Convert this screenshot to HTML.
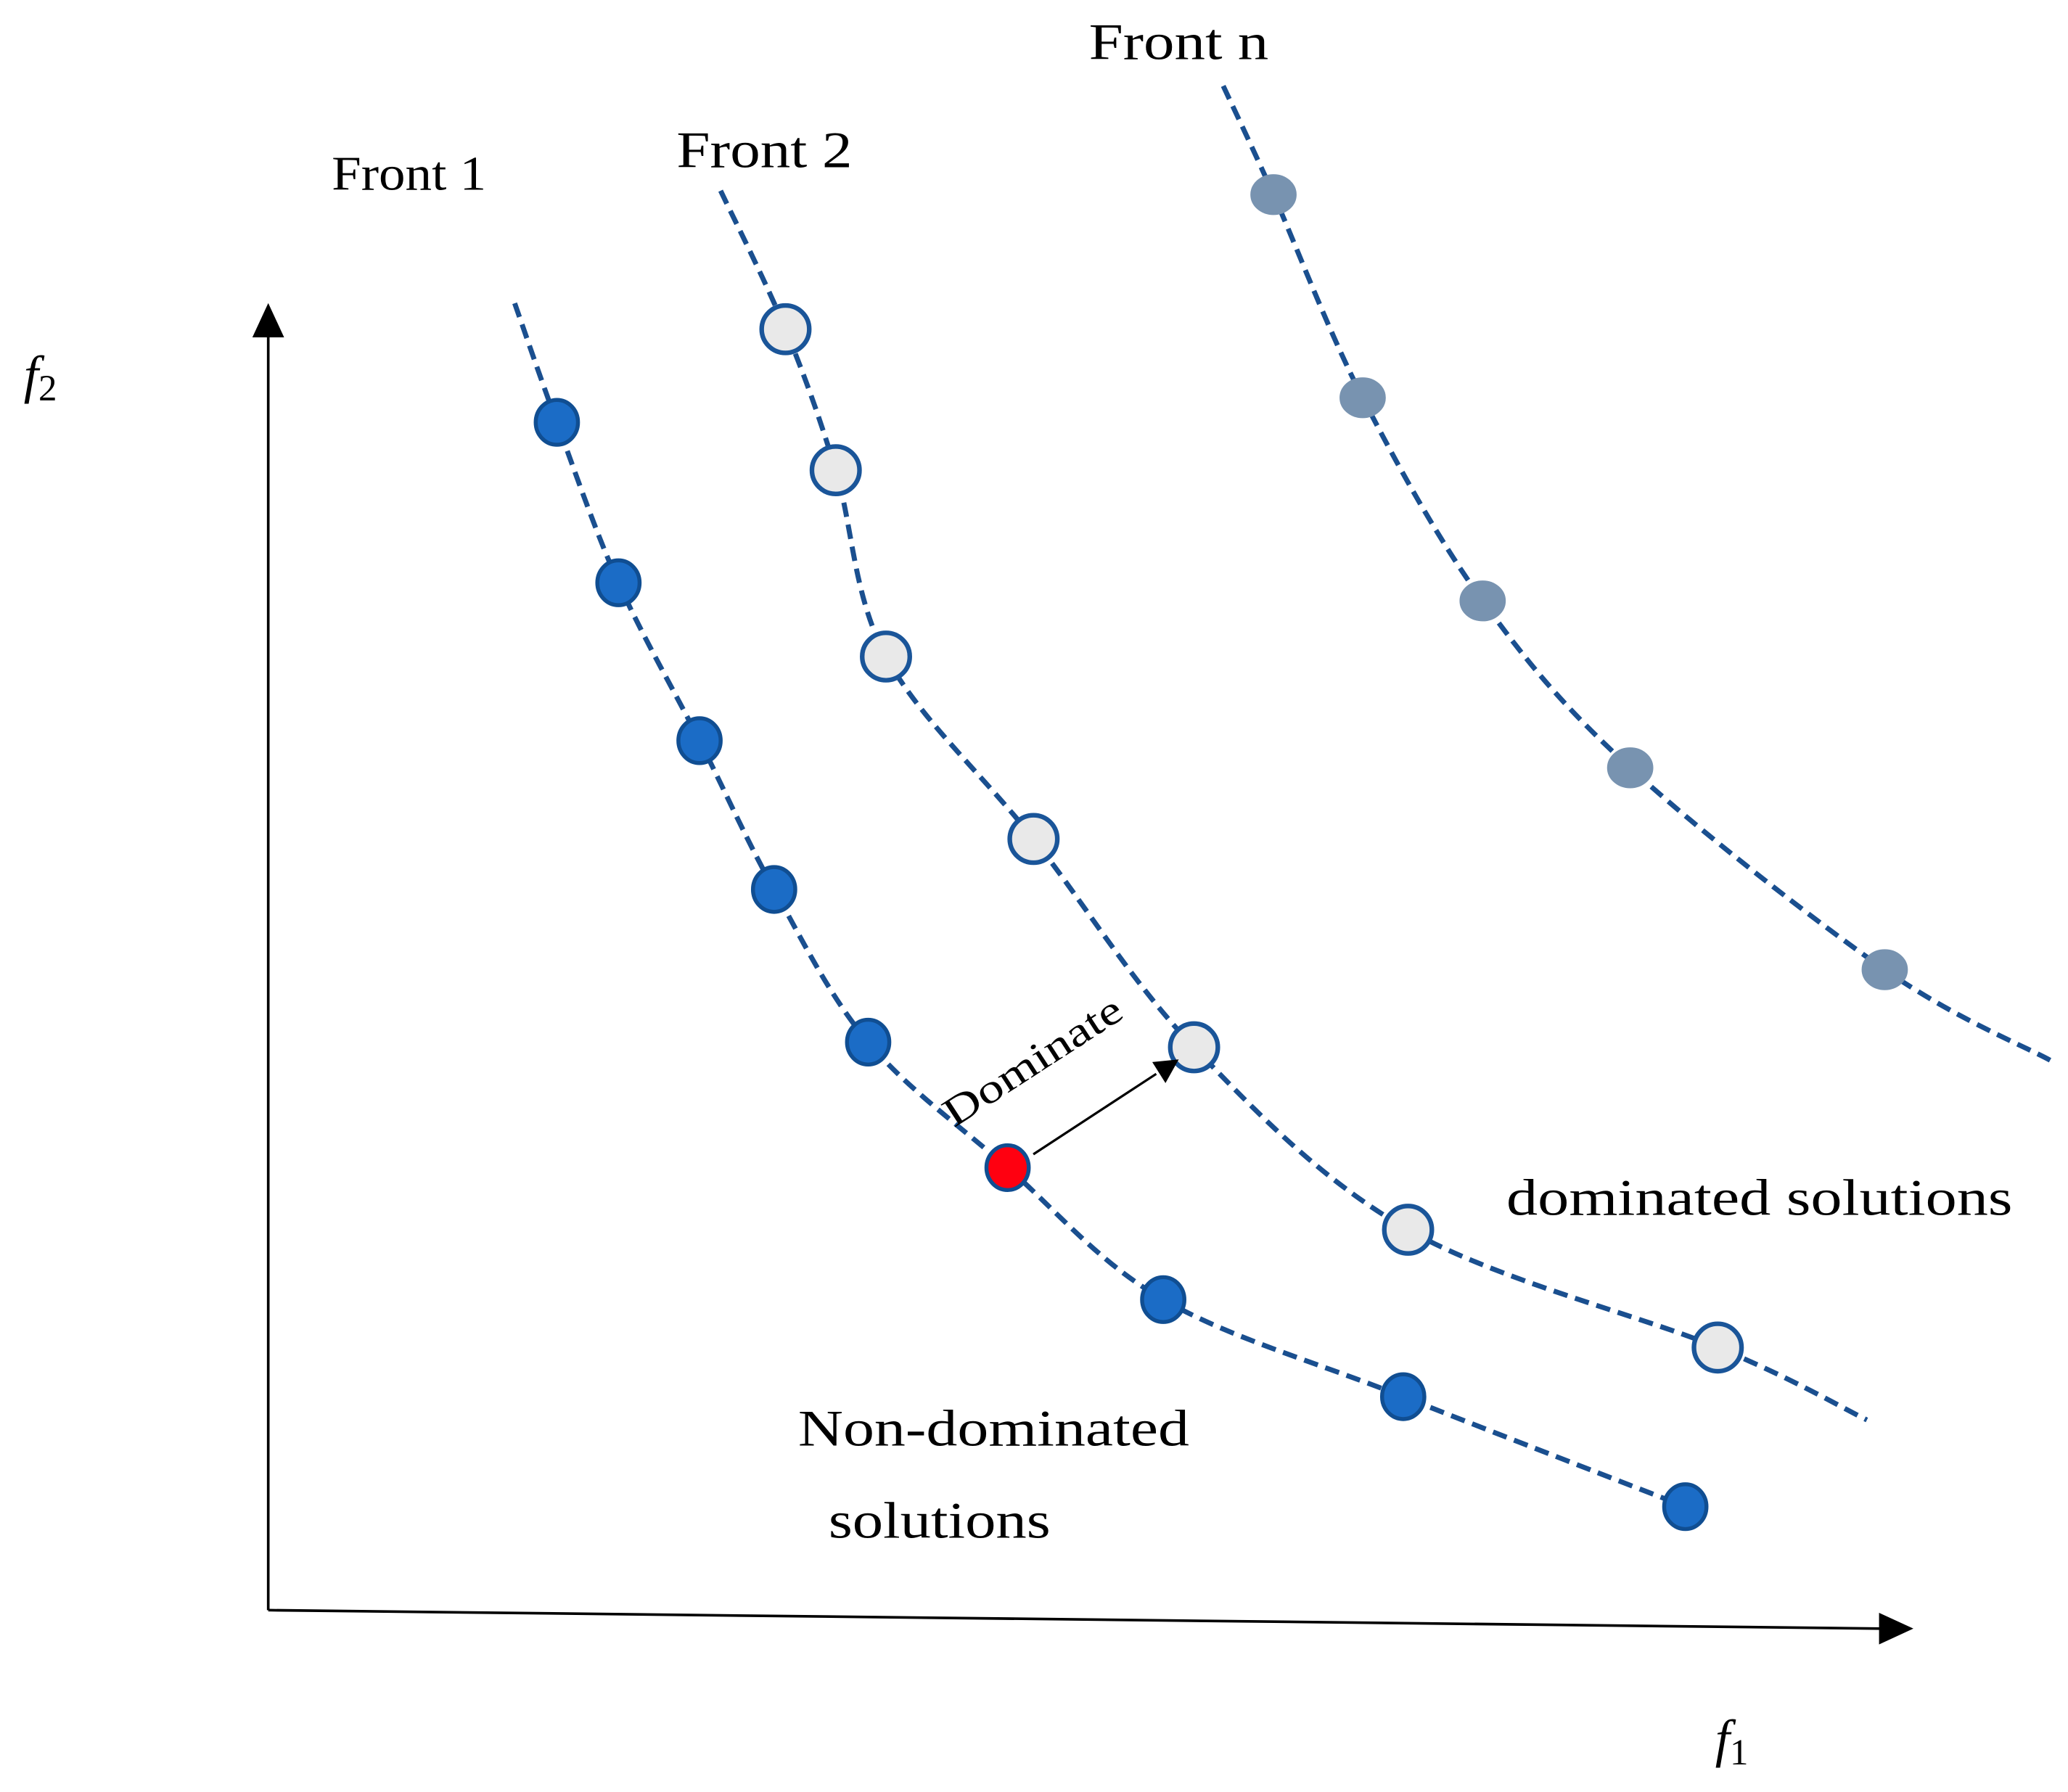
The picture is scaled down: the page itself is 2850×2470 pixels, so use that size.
<!DOCTYPE html>
<html><head><meta charset="utf-8"><style>
html,body{margin:0;padding:0;background:#fff;}
svg{display:block;}
text{font-family:"Liberation Serif",serif;fill:#000;}
</style></head><body>
<svg id="chart" width="2850" height="2470" viewBox="0 0 1565 1360" preserveAspectRatio="none" xmlns="http://www.w3.org/2000/svg">
<g>
<line x1="203" y1="1222" x2="203" y2="255" stroke="#000" stroke-width="2"/>
<polygon points="203,230 191,256 215,256" fill="#000"/>
<line x1="203" y1="1222" x2="1424" y2="1236" stroke="#000" stroke-width="2"/>
<polygon points="1448,1236 1422,1224 1422,1248" fill="#000"/>
<text x="18" y="298" font-size="40" font-style="italic">f<tspan font-size="28" font-style="normal" dy="6">2</tspan></text>
<text x="1298" y="1333" font-size="40" font-style="italic">f<tspan font-size="28" font-style="normal" dy="6">1</tspan></text>
</g>
<g id="series"></g>
<g>
<text x="251" y="144" font-size="37" textLength="117" lengthAdjust="spacingAndGlyphs">Front 1</text>
<text x="512" y="127" font-size="39" textLength="133" lengthAdjust="spacingAndGlyphs">Front 2</text>
<text x="824" y="45" font-size="39" textLength="136" lengthAdjust="spacingAndGlyphs">Front n</text>
<text x="1140" y="922" font-size="39" textLength="383" lengthAdjust="spacingAndGlyphs">dominated solutions</text>
<text x="604" y="1097" font-size="39" textLength="296" lengthAdjust="spacingAndGlyphs">Non-dominated</text>
<text x="627" y="1167" font-size="39" textLength="168" lengthAdjust="spacingAndGlyphs">solutions</text>
<text x="0" y="0" font-size="31" textLength="155" lengthAdjust="spacingAndGlyphs" transform="translate(722,856) rotate(-33)">Dominate</text>
<line x1="782" y1="876" x2="875" y2="815" stroke="#000" stroke-width="1.8"/>
<polygon points="892,804 872,806 882,822" fill="#000"/>
</g>
</svg>
<script>
// data (f1, f2 in arbitrary units 0..100)
const front1X = [17.8, 21.6, 26.6, 31.2, 37.0, 45.6, 55.2, 70.0, 87.4];
const front1Y = [91.8, 79.4, 67.2, 55.7, 43.9, 34.2, 24.0, 16.5, 8.0];
const front1Start = [15.2, 101.0];
const front2X = [31.9, 35.0, 38.1, 47.2, 57.1, 70.3, 89.4];
const front2Y = [99.0, 88.1, 73.7, 59.6, 43.5, 29.4, 20.3];
const front2Start = [27.9, 109.7];
const front2End = [98.6, 14.7];
const frontNX = [62.0, 67.5, 74.9, 84.0, 99.7];
const frontNY = [109.4, 93.7, 78.0, 65.1, 49.5];
const frontNStart = [58.9, 117.8];
const frontNEnd = [109.9, 42.5];
const highlightIndex = 5;

function xs(v){return 203 + v*12.27;}
function ys(v){return 1222 - v*9.82;}
const NS = "http://www.w3.org/2000/svg";
const g = document.getElementById('series');

function smoothPath(pts){
  let d = "M"+pts[0][0]+","+pts[0][1];
  for(let i=0;i<pts.length-1;i++){
    const p0=pts[Math.max(i-1,0)], p1=pts[i], p2=pts[i+1], p3=pts[Math.min(i+2,pts.length-1)];
    const c1=[p1[0]+(p2[0]-p0[0])/6, p1[1]+(p2[1]-p0[1])/6];
    const c2=[p2[0]-(p3[0]-p1[0])/6, p2[1]-(p3[1]-p1[1])/6];
    d += " C"+c1[0]+","+c1[1]+" "+c2[0]+","+c2[1]+" "+p2[0]+","+p2[1];
  }
  return d;
}
function drawFront(name, X, Y, start, end, style){
  const grp = document.createElementNS(NS,'g');
  
  
  const pts=[[xs(start[0]),ys(start[1])]];
  X.forEach((v,i)=>pts.push([xs(v),ys(Y[i])]));
  if(end) pts.push([xs(end[0]),ys(end[1])]);
  const path=document.createElementNS(NS,'path');
  
  
  path.setAttribute('d', smoothPath(pts));
  path.setAttribute('fill','none');
  path.setAttribute('stroke','#1a4f8f');
  path.setAttribute('stroke-width','3.8');
  path.setAttribute('stroke-dasharray','11 6');
  grp.appendChild(path);
  X.forEach((v,i)=>{
    const c=document.createElementNS(NS,'ellipse');
    
    
    c.setAttribute('cx', xs(v));
    c.setAttribute('cy', ys(Y[i]));
    c.setAttribute('rx', style.rx);
    c.setAttribute('ry', style.ry);
    let fill=style.fill;
    if(style.hi && i===highlightIndex) fill='#ff0010';
    c.setAttribute('fill', fill);
    c.setAttribute('stroke', style.stroke);
    c.setAttribute('stroke-width', style.sw);
    grp.appendChild(c);
  });
  g.appendChild(grp);
}
drawFront('front-1', front1X, front1Y, front1Start, null, {rx:16,ry:17,fill:'#1b6cc6',stroke:'#104e92',sw:3,hi:true});
drawFront('front-2', front2X, front2Y, front2Start, front2End, {rx:18,ry:18,fill:'#e9e9e9',stroke:'#1a5599',sw:3.5});
drawFront('front-n', frontNX, frontNY, frontNStart, frontNEnd, {rx:17,ry:15,fill:'#7893b0',stroke:'#7893b0',sw:1});
</script>
</body></html>
